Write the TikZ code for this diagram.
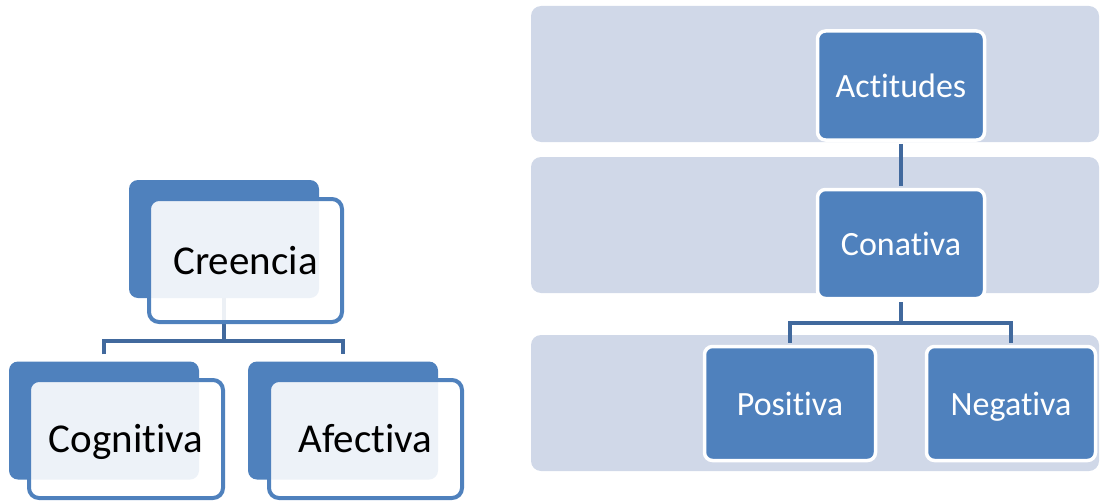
\documentclass[tikz,border=0pt]{standalone}
\usepackage{fontspec}
\setmainfont{Carlito}[Ligatures=NoCommon]
\usetikzlibrary{positioning}
\definecolor{acblue}{RGB}{79,129,189}
\definecolor{acband}{RGB}{208,216,232}
\definecolor{acline}{RGB}{65,105,157}

\begin{document}
\begin{tikzpicture}[x=1pt,y=-1pt,
      back/.style={fill=acblue,rounded corners=9pt,minimum width=190pt,minimum height=118pt,inner sep=0pt},
      front/.style={draw=acblue,line width=4pt,fill=white,fill opacity=.9,text opacity=1,rounded corners=10pt,
        inner sep=0pt,text height=27pt,text depth=0pt,font=\fontsize{41}{49}\selectfont},
      band/.style={fill=acband,rounded corners=10pt,minimum width=568pt,minimum height=136pt,inner sep=0pt},
      leaf/.style={draw=white,line width=3.5pt,fill=acblue,text=white,rounded corners=8pt,inner sep=0pt,
        text height=23pt,text depth=0pt,minimum width=167pt,minimum height=109pt,font=\fontsize{34}{41}\selectfont},
      conn/.style={draw=acline,line width=4.5pt}]
      \useasboundingbox (0,0) rectangle (1100,503);
      \node[back] (cb) at (224,239) {};
      \node[back] (cogb) at (104,420.5) {};
      \node[back] (afeb) at (343,420.5) {};
      \coordinate (lj) at (224,341);
      \draw[conn] (cb.south) -- (lj);
      \draw[conn] ([yshift=7pt]cogb.north) -- (cogb.north |- lj) -- (afeb.north |- lj) -- ([yshift=7pt]afeb.north);
      \node[front,minimum width=193pt,minimum height=123pt] (cre) at (245.5,260.5) {Creencia};
      \node[front,minimum width=194pt,minimum height=118pt] (cog) at (126,439) {Cognitiva};
      \node[front,minimum width=193pt,minimum height=118pt] (afe) at (365.5,439) {Afectiva};
      \node[band] (band1) at (815,74) {};
      \node[band] (band2) at (815,225) {};
      \node[band] (band3) at (815,403) {};
      \node[leaf] (act) at (901,85.5) {Actitudes};
      \node[leaf] (con) at (901,244) {Conativa};
      \node[leaf,minimum width=171pt,minimum height=114pt] (pos) at (790,403.5) {Positiva};
      \node[leaf,minimum width=169pt,minimum height=114pt] (neg) at (1011,403.5) {Negativa};
      \coordinate (rj) at (901,323);
      \draw[conn,shorten <=2pt,shorten >=2pt] (act.south) -- (con.north);
      \draw[conn,shorten <=2pt] (con.south) -- (rj);
      \draw[conn,shorten <=2pt,shorten >=2pt] (pos.north) -- (pos.north |- rj) -- (neg.north |- rj) -- (neg.north);
    \end{tikzpicture}
\end{document}
